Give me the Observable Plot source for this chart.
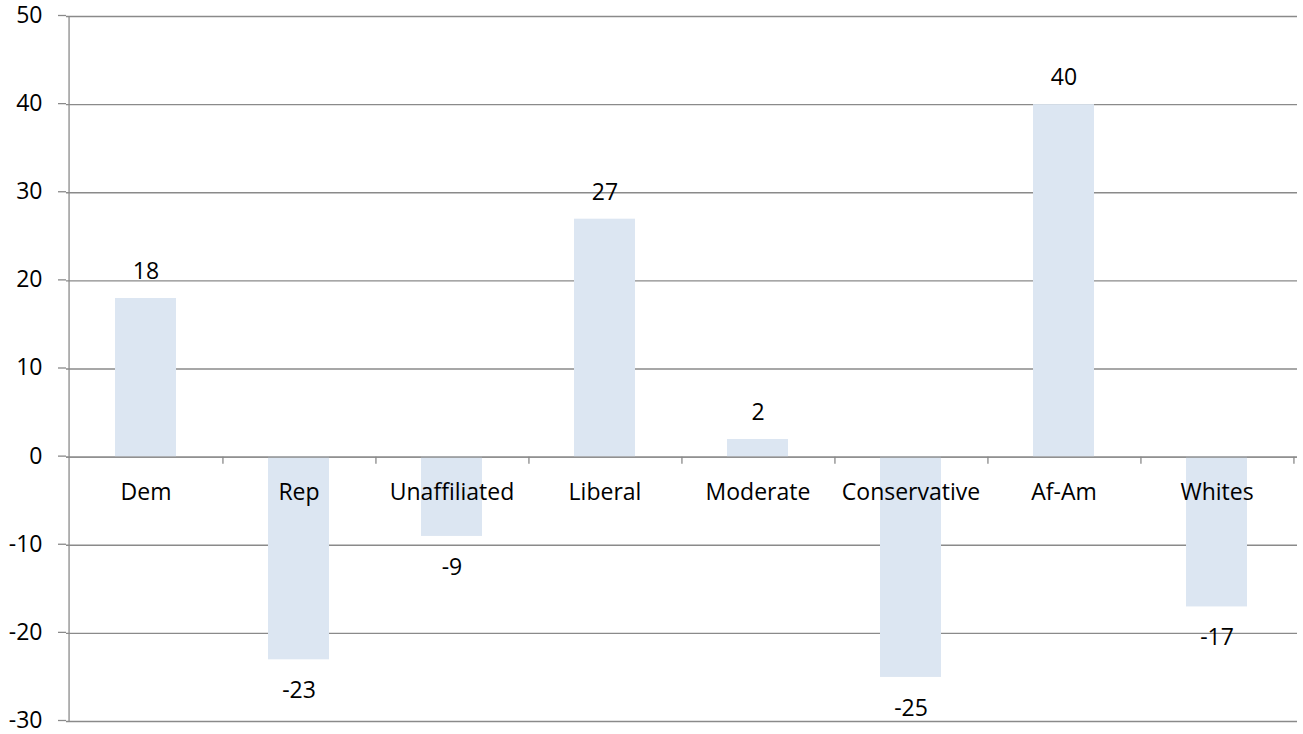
<!DOCTYPE html>
<html>
<head>
<meta charset="utf-8">
<script src="https://cdn.jsdelivr.net/npm/d3@7"></script>
<script src="https://cdn.jsdelivr.net/npm/@observablehq/plot@0.6"></script>
<style>
  html, body { margin: 0; padding: 0; background: #fff; }
  #chart svg { display: block; overflow: visible; }
</style>
</head>
<body>
<div id="chart"></div>
<script>
// Net difference by group
const categories = ["Dem", "Rep", "Unaffiliated", "Liberal", "Moderate", "Conservative", "Af-Am", "Whites"];
const values = [18, -23, -9, 27, 2, -25, 40, -17];
const yTicks = [-30, -20, -10, 0, 10, 20, 30, 40, 50];

const data = categories.map((c, i) => ({category: c, value: values[i]}));

const width = 1303, height = 734;
const marginLeft = 66, marginRight = 6, marginTop = 16, marginBottom = 13;
const step = (width - marginLeft - marginRight) / categories.length;
const unitsPerPx = (yTicks[yTicks.length - 1] - yTicks[0]) / (height - marginTop - marginBottom);
const tickLen = 7 * unitsPerPx;

const gray = "#8a8a8a";
const font = "'Open Sans', sans-serif";
const fs = 23;

const chart = Plot.plot({
  width, height, marginLeft, marginRight, marginTop, marginBottom,
  style: {fontFamily: font, background: "#fff", color: "#000"},
  x: {domain: categories, paddingInner: 0.6, paddingOuter: 0.3, axis: null},
  y: {domain: [yTicks[0], yTicks[yTicks.length - 1]], axis: null, label: null},
  marks: [
    Plot.gridY(yTicks, {stroke: gray, strokeOpacity: 1, strokeWidth: 1.3}),
    Plot.axisY(yTicks, {label: null, tickSize: 8, tickPadding: 16, fontSize: fs, stroke: gray, strokeWidth: 1.3, fill: "#000", dy: -1, tickFormat: d => String(d)}),
    Plot.ruleX([categories[0]], {dx: -step / 2, y1: yTicks[0], y2: yTicks[yTicks.length - 1], stroke: gray, strokeWidth: 1.3}),
    Plot.barY(data, {x: "category", y: "value", fill: "#dce6f2"}),
    Plot.ruleY([0], {stroke: gray, strokeWidth: 1.3}),
    Plot.ruleX(categories, {dx: step / 2, y1: 0, y2: -tickLen, stroke: gray, strokeWidth: 1.3}),
    Plot.text(categories, {x: d => d, y: 0, dy: 35, text: d => d, fontSize: fs, fill: "#000"}),
    Plot.text(data.filter(d => d.value >= 0), {x: "category", y: "value", dy: -27, text: d => String(d.value), fontSize: fs, fill: "#000"}),
    Plot.text(data.filter(d => d.value < 0), {x: "category", y: "value", dy: 31, text: d => String(d.value), fontSize: fs, fill: "#000"})
  ]
});

document.getElementById("chart").appendChild(chart);
</script>
</body>
</html>
